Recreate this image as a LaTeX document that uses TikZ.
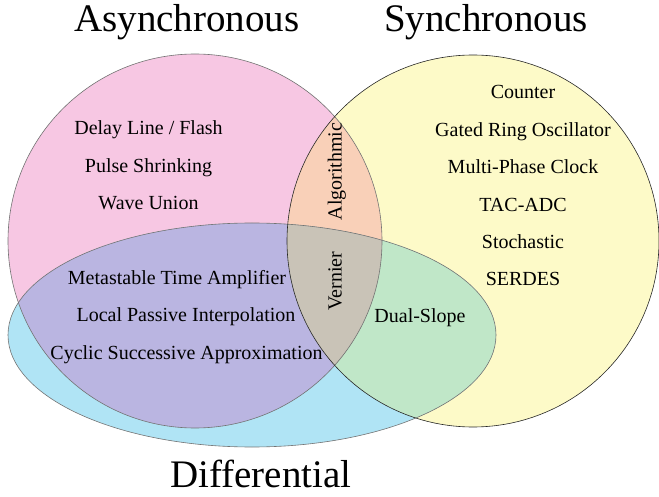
\documentclass[tikz,border=0pt]{standalone}
\usepackage{fontspec}
\setmainfont{Liberation Serif}
\usepackage{xcolor}
\usetikzlibrary{positioning}

\definecolor{asyncpink}{RGB}{247,199,227}
\definecolor{syncyellow}{RGB}{253,250,200}
\definecolor{diffcyan}{RGB}{176,228,245}
\definecolor{aspeach}{RGB}{249,208,184}
\definecolor{adlav}{RGB}{186,181,225}
\definecolor{sdgreen}{RGB}{192,231,200}
\definecolor{allgray}{RGB}{201,195,183}

\tikzset{
  settitle/.style={font=\fontsize{39}{44}\selectfont, inner sep=0pt, anchor=base},
  method/.style={font=\fontsize{20}{24}\selectfont, inner sep=0pt, anchor=base},
  setline/.style={line width=0.6pt}
}

\begin{document}
\begin{tikzpicture}[x=1pt,y=-1pt]
            \useasboundingbox (0,0) rectangle (659,497);
            \coordinate (A) at (195,241);
            \coordinate (S) at (473,241);
            \coordinate (D) at (252,335);
            % plain sets
            \fill[asyncpink] (A) circle [radius=187pt];
            \fill[syncyellow] (S) circle [radius=186pt];
            \fill[diffcyan] (D) ellipse [x radius=244pt, y radius=112pt];
            % overlaps
            \begin{scope}
                \clip (A) circle [radius=187pt];
                \fill[aspeach] (S) circle [radius=186pt];
                \fill[adlav] (D) ellipse [x radius=244pt, y radius=112pt];
            \end{scope}
            \begin{scope}
                \clip (S) circle [radius=186pt];
                \fill[sdgreen] (D) ellipse [x radius=244pt, y radius=112pt];
                \clip (A) circle [radius=187pt];
                \fill[allgray] (D) ellipse [x radius=244pt, y radius=112pt];
            \end{scope}
            % outlines
            \draw[setline, black!55] (A) circle [radius=187pt];
            \draw[setline, black!55] (D) ellipse [x radius=244pt, y radius=112pt];
            \draw[setline, black!85] (S) circle [radius=186pt];
            % titles
            \node[settitle] (async) at (187,32) {Asynchronous};
            \node[settitle] (sync) at (486,32) {Synchronous};
            \node[settitle] (diff) at (261,487) {Differential};
            % asynchronous only
            \node[method] (delay) at (148.5,135) {Delay Line / Flash};
            \node[method] (pulse) at (148.5,172.5) {Pulse Shrinking};
            \node[method] (wave) at (148.5,210) {Wave Union};
            % synchronous only
            \node[method] (counter) at (523,99) {Counter};
            \node[method] (gro) at (523,136.4) {Gated Ring Oscillator};
            \node[method] (mpc) at (523,173.8) {Multi-Phase Clock};
            \node[method] (tac) at (523,211.2) {TAC-ADC};
            \node[method] (stoch) at (523,248.6) {Stochastic};
            \node[method] (serdes) at (523,286) {SERDES};
            % asynchronous and differential
            \node[method] (mta) at (177,284) {Metastable Time Amplifier};
            \node[method] (lpi) at (186,321.5) {Local Passive Interpolation};
            \node[method] (csa) at (186.5,359) {Cyclic Successive Approximation};
            % synchronous and differential
            \node[method] (dual) at (420,322) {Dual-Slope};
            % lens
            \node[method, rotate=90] (algo) at (341.5,171.5) {Algorithmic};
            \node[method, rotate=90] (vernier) at (341.5,281) {Vernier};
        \end{tikzpicture}
\end{document}
